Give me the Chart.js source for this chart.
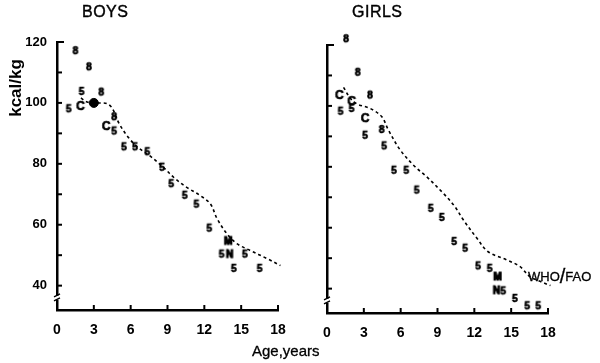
<!DOCTYPE html>
<html>
<head>
<meta charset="utf-8">
<script src="https://cdn.jsdelivr.net/npm/chart.js@4/dist/chart.umd.min.js"></script>
<style>
  body { margin: 0; background: #fff; }
  #wrap { position: relative; width: 600px; height: 363px; overflow: hidden; font-family: "Liberation Sans", Arial, sans-serif; color: #000; }
  canvas { position: absolute; top: 0; }
  .lbl { position: absolute; white-space: nowrap; }
</style>
</head>
<body>
<div id="wrap">
  <canvas id="boys" width="300" height="363" style="left:0"></canvas>
  <canvas id="girls" width="300" height="363" style="left:300px"></canvas>
  <div class="lbl" style="left:82px;top:3px;font-size:16px;letter-spacing:0.5px;-webkit-text-stroke:0.4px #000">BOYS</div>
  <div class="lbl" style="left:352px;top:3px;font-size:16px;letter-spacing:0.5px;-webkit-text-stroke:0.4px #000">GIRLS</div>
  <div class="lbl" style="left:-16px;top:78px;font-size:17px;font-weight:bold;transform:rotate(-90deg);transform-origin:center;width:64px;text-align:center">kcal/kg</div>
  <div class="lbl" style="left:252px;top:342px;font-size:15px;-webkit-text-stroke:0.3px #000">Age,years</div>
  <div class="lbl" style="left:528px;top:263px;font-size:13px;-webkit-text-stroke:0.3px #000">WHO<span style="font-size:20px;position:relative;top:2px">/</span>FAO</div>
</div>
<script>
// x ticks and y ticks
const ageTicks = [0, 3, 6, 9, 12, 15, 18];
const kcalTicks = [40, 50, 60, 70, 80, 90, 100, 110, 120];
const kcalLabels = [40, 60, 80, 100, 120];

// boys, by marker letter: [age, kcal/kg]
const boys8 = [[1.5, 117], [2.6, 111.7], [3.6, 103.4], [4.65, 95.3]];
const boys5 = [[2.0, 103.6], [0.95, 97.9], [4.65, 90.6], [5.45, 85.4], [6.35, 85.4], [7.35, 83.8], [8.55, 78.7],
  [9.3, 73.3], [10.4, 69.5], [11.35, 66.6], [12.4, 58.7], [13.4, 50.2], [15.3, 50.2], [14.4, 45.5], [16.5, 45.5]];
const boysC = [[1.9, 99], [4.0, 92.4]];
const boysM = [[13.95, 54.5]];
const boysN = [[14.05, 50.2]];
const boysBlob = [[3.0, 100]];
const boysWho = [[1.95, 101.6], [2.45, 100.3], [3.3, 100], [4.05, 99.8], [4.5, 98.2], [5.05, 93.3], [5.75, 89],
  [6.5, 85.7], [7.6, 82.5], [8.7, 78.7], [9.6, 75.2], [10.6, 72.2], [11.7, 69.5], [12.5, 66.8], [13.05, 61.9],
  [13.85, 57], [14.65, 53.8], [15.7, 51.6], [17.1, 48.9], [18.2, 46.6]];

// girls
const girls8 = [[1.55, 121.9], [2.5, 110.9], [3.5, 103.4], [4.45, 92.1]];
const girls5 = [[1.1, 98.1], [2.0, 99.0], [3.1, 90.2], [4.65, 86.7], [5.45, 78.7], [6.45, 78.7], [7.3, 72.2],
  [8.45, 66.2], [9.35, 63.2], [10.35, 55.3], [11.25, 53.1], [12.3, 47.3], [13.25, 46.5], [14.35, 39.1],
  [15.3, 36.6], [16.3, 34.2], [17.2, 34.2]];
const girlsC = [[1.0, 103.6], [2.0, 101.6], [3.1, 96]];
const girlsM = [[13.9, 43.8]];
const girlsN = [[13.8, 39.3]];
const girlsWho = [[1.35, 106.1], [1.9, 102.5], [2.45, 100.6], [3.5, 99.2], [4.45, 96.5], [5.0, 92.1], [5.95, 85.6],
  [7.15, 80.1], [8.1, 76.8], [9.45, 71.4], [10.4, 67], [11.1, 62.6], [12.2, 56.6], [13.1, 52.2], [14.6, 49.5],
  [15.7, 47.3], [16.5, 44], [17.35, 42.4], [18.2, 41]];

function glyph(ch, size, heavy) {
  const c = document.createElement('canvas');
  c.width = 14; c.height = 14;
  const g = c.getContext('2d');
  g.font = 'bold ' + size + 'px "Liberation Sans", Arial, sans-serif';
  g.textAlign = 'center';
  g.textBaseline = 'middle';
  g.fillStyle = '#000';
  g.strokeStyle = '#000';
  g.lineWidth = heavy ? 1.2 : 0.7;
  g.fillText(ch, 7, 7.5);
  g.strokeText(ch, 7, 7.5);
  return c;
}

const pts = (arr) => arr.map(p => ({ x: p[0], y: p[1] }));

function marks(data, ch, size, heavy) {
  return { type: 'scatter', data: pts(data), pointStyle: glyph(ch, size, heavy), pointRadius: 7, showLine: false };
}

// tick marks drawn inward, and the break on the y axis
const inwardTicks = {
  id: 'inwardTicks',
  afterDraw(chart) {
    const { ctx, scales: { x, y } } = chart;
    ctx.save();
    ctx.strokeStyle = '#000';
    ctx.lineWidth = 2;
    kcalTicks.forEach(v => {
      const py = y.getPixelForValue(v);
      ctx.beginPath(); ctx.moveTo(x.left, py); ctx.lineTo(x.left + (v === 120 ? 7 : 5), py); ctx.stroke();
    });
    ageTicks.forEach(v => {
      if (v === 0) return;
      const px = x.getPixelForValue(v);
      ctx.beginPath(); ctx.moveTo(px, y.bottom); ctx.lineTo(px, y.bottom - 5); ctx.stroke();
    });
    // axis break
    const b = y.getPixelForValue(36);
    ctx.fillStyle = '#fff';
    ctx.fillRect(x.left - 3, b - 2, 6, 4);
    ctx.lineWidth = 1.5;
    ctx.beginPath(); ctx.moveTo(x.left - 3, b - 1); ctx.lineTo(x.left + 3, b - 4); ctx.stroke();
    ctx.beginPath(); ctx.moveTo(x.left - 3, b + 3); ctx.lineTo(x.left + 3, b); ctx.stroke();
    ctx.restore();
  }
};

function makeChart(id, sets, opt) {
  const d = [
    { type: 'line', data: pts(sets.who), borderColor: '#000', borderWidth: 1.6, borderDash: [3, 3],
      pointRadius: 0, tension: 0.35, fill: false, clip: false },
    marks(sets.m8, '8', 10, false),
    marks(sets.m5, '5', 10, false),
    marks(sets.mC, 'C', 12, false),
    marks(sets.mM, 'M', 10, true),
    marks(sets.mN, 'N', 10, true)
  ];
  if (sets.blob) {
    d.push({ type: 'scatter', data: pts(sets.blob), pointStyle: 'circle', pointRadius: 4.5,
      backgroundColor: '#000', borderColor: '#000' });
  }
  return new Chart(document.getElementById(id), {
    type: 'scatter',
    data: { datasets: d.map(s => Object.assign({ clip: false }, s)) },
    options: {
      responsive: false,
      animation: false,
      layout: { padding: { top: opt.top, right: opt.right, left: 0, bottom: 0 } },
      plugins: { legend: { display: false }, tooltip: { enabled: false } },
      scales: {
        x: {
          type: 'linear', min: 0, max: 18,
          afterBuildTicks: s => { s.ticks = ageTicks.map(v => ({ value: v })); },
          afterFit: s => { s.height = 363 - opt.bottom; },
          grid: { display: false },
          border: { display: true, color: '#000', width: 2.5 },
          ticks: { color: '#000', padding: 4, font: { size: 14, weight: 'bold', family: '"Liberation Sans", Arial' } }
        },
        y: {
          type: 'linear', min: 32, max: 120,
          afterBuildTicks: s => { s.ticks = kcalTicks.map(v => ({ value: v })); },
          afterFit: s => { s.width = opt.left; },
          grid: { display: false },
          border: { display: true, color: '#000', width: 2.5 },
          ticks: {
            color: '#000', padding: 2, font: { size: 13, weight: 'bold', family: '"Liberation Sans", Arial' },
            callback: v => (opt.labels && kcalLabels.includes(v)) ? String(v) : ''
          }
        }
      }
    },
    plugins: [inwardTicks]
  });
}

makeChart('boys', { who: boysWho, m8: boys8, m5: boys5, mC: boysC, mM: boysM, mN: boysN, blob: boysBlob },
  { top: 42, bottom: 310, left: 57, right: 22, labels: true });
makeChart('girls', { who: girlsWho, m8: girls8, m5: girls5, mC: girlsC, mM: girlsM, mN: girlsN },
  { top: 45, bottom: 313, left: 27, right: 52, labels: false });
</script>
</body>
</html>
